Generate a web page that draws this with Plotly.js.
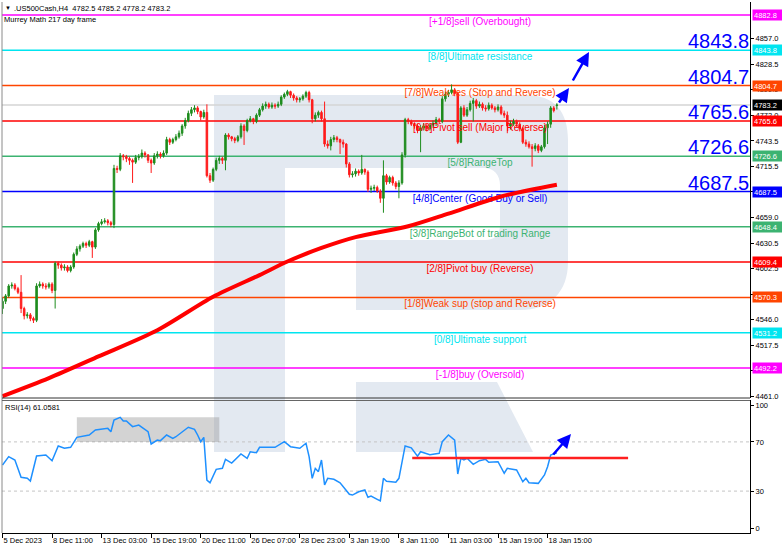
<!DOCTYPE html>
<html><head><meta charset="utf-8">
<script src="https://cdn.plot.ly/plotly-3.0.1.min.js"></script>
<style>html,body{margin:0;padding:0;background:#fff;overflow:hidden}#chart{width:782px;height:551px}</style>
</head><body><div id="chart"></div>
<script>
// ---------- data ----------
const xLabels = ['5 Dec 2023','8 Dec 11:00','13 Dec 03:00','15 Dec 19:00','20 Dec 11:00','26 Dec 07:00','28 Dec 23:00','3 Jan 19:00','8 Jan 11:00','11 Jan 03:00','15 Jan 19:00','18 Jan 15:00'];
const xLabelBars = [0,16,32,48,64,80,96,112,128,144,160,176];

const open = [
4558,4566,4572,4583,4584,4580,4576,4558,4550,4551,
4547,4545,4583,4585,4583,4582,4585,4578,4608,4606,
4603,4604,4600,4604,4618,4624,4627,4630,4628,4632,
4626,4645,4652,4654,4655,4653,4651,4713,4712,4727,
4726,4724,4722,4720,4725,4726,4730,4728,4722,4719,
4727,4729,4727,4730,4745,4742,4745,4748,4752,4760,
4766,4774,4778,4780,4776,4770,4775,4705,4700,4712,
4722,4724,4722,4750,4748,4746,4744,4748,4760,4755,
4766,4768,4765,4772,4778,4782,4784,4781,4783,4782,
4784,4792,4795,4798,4794,4791,4789,4790,4793,4797,
4789,4768,4772,4775,4768,4740,4738,4745,4747,4745,
4742,4740,4718,4706,4707,4710,4708,4712,4709,4690,
4691,4692,4688,4680,4705,4698,4703,4697,4693,4697,
4728,4767,4765,4762,4760,4755,4758,4760,4757,4761,
4763,4767,4765,4790,4795,4797,4800,4796,4742,4780,
4772,4778,4785,4788,4782,4784,4780,4779,4783,4780,
4778,4781,4774,4772,4760,4762,4765,4762,4757,4742,
4740,4737,4735,4738,4733,4737,4758,4762,4780,4782.5];
const high = [
4570,4574,4585,4587,4586,4582,4595,4560,4554,4553,
4549,4586,4588,4587,4586,4587,4587,4610,4610,4608,
4607,4606,4606,4620,4627,4629,4632,4632,4634,4633,
4647,4654,4657,4658,4657,4655,4717,4716,4730,4729,
4728,4726,4724,4728,4729,4734,4732,4729,4724,4730,
4732,4731,4733,4748,4747,4747,4751,4755,4762,4769,
4777,4781,4783,4782,4777,4778,4784,4708,4714,4725,
4727,4726,4752,4752,4749,4748,4750,4763,4762,4768,
4771,4769,4774,4780,4785,4787,4786,4786,4785,4787,
4794,4797,4800,4799,4796,4793,4792,4795,4799,4799,
4790,4775,4777,4777,4787,4744,4748,4750,4749,4746,
4745,4741,4720,4710,4713,4712,4728,4713,4711,4694,
4695,4694,4690,4722,4707,4705,4705,4699,4700,4731,
4769,4769,4767,4764,4762,4761,4763,4762,4763,4766,
4770,4769,4793,4798,4800,4806,4802,4798,4782,4783,
4781,4788,4791,4790,4787,4786,4783,4786,4785,4782,
4784,4783,4777,4776,4766,4768,4767,4764,4759,4745,
4743,4740,4741,4740,4739,4761,4765,4782,4782,4785.2];
const low = [
4552,4563,4570,4580,4578,4574,4553,4546,4547,4544,
4542,4543,4581,4580,4579,4580,4575,4558,4602,4600,
4600,4598,4598,4602,4616,4621,4625,4625,4626,4614,
4624,4643,4650,4652,4650,4648,4647,4708,4710,4722,
4720,4717,4697,4718,4722,4724,4725,4719,4708,4717,
4724,4724,4725,4728,4739,4740,4743,4746,4749,4757,
4764,4771,4775,4773,4766,4768,4703,4697,4698,4710,
4718,4718,4711,4745,4743,4741,4742,4746,4739,4753,
4764,4762,4763,4770,4776,4779,4779,4779,4779,4780,
4782,4790,4793,4791,4788,4786,4786,4788,4791,4786,
4763,4765,4769,4765,4737,4735,4733,4742,4742,4729,
4736,4714,4703,4703,4704,4705,4706,4706,4687,4686,
4688,4686,4675,4664,4695,4696,4694,4690,4680,4695,
4725,4762,4760,4757,4752,4731,4755,4754,4755,4758,
4760,4762,4763,4787,4792,4795,4793,4740,4741,4770,
4770,4776,4765,4779,4780,4777,4776,4777,4778,4775,
4776,4772,4769,4752,4756,4760,4759,4754,4740,4737,
4735,4715,4732,4730,4731,4735,4740,4758,4775,4778.2];
const close = [
4566,4572,4583,4584,4580,4576,4558,4550,4551,4547,
4545,4583,4585,4583,4582,4585,4578,4608,4606,4603,
4604,4600,4604,4618,4624,4627,4630,4628,4632,4626,
4645,4652,4654,4655,4653,4651,4713,4712,4727,4726,
4724,4722,4720,4725,4726,4730,4728,4722,4719,4727,
4729,4727,4730,4745,4742,4745,4748,4752,4760,4766,
4774,4778,4780,4776,4770,4775,4705,4700,4712,4722,
4724,4722,4750,4748,4746,4744,4748,4760,4755,4766,
4768,4765,4772,4778,4782,4784,4781,4783,4782,4784,
4792,4795,4798,4794,4791,4789,4790,4793,4797,4789,
4768,4772,4775,4768,4740,4738,4745,4747,4745,4742,
4740,4718,4706,4707,4710,4708,4712,4709,4690,4691,
4692,4688,4680,4705,4698,4703,4697,4693,4697,4728,
4767,4765,4762,4760,4755,4758,4760,4757,4761,4763,
4767,4765,4790,4795,4797,4800,4796,4742,4780,4772,
4778,4785,4788,4782,4784,4780,4779,4783,4780,4778,
4781,4774,4772,4760,4762,4765,4762,4757,4742,4740,
4737,4735,4738,4733,4737,4758,4762,4780,4777,4783.2];

// 217-period moving average (sampled)
const maBars   = [0,15,31,50,68,83,92,103,114,131,144,161,179];
const maValues = [4461,4481,4505,4534,4571,4595,4610,4625,4637,4649,4663,4682,4695];

// RSI(14)
const rsiBars = [0,2,4,6,8,9,11,14,16,18,20,22,24,28,30,34,35,36,38,39,40,42,44,47,48,50,51,53,55,56,60,62,63,64,65,66,67,69,71,72,74,77,79,80,82,83,88,90,91,93,96,98,99,100,101,102,103,104,105,107,109,112,113,115,117,118,119,121,122,123,124,127,128,130,132,134,135,138,141,142,144,146,147,148,149,150,152,154,156,157,160,162,163,166,168,169,170,173,175,176,177,179];
const rsiValues = [51.2,58,55.3,41.2,40.4,38.2,58.5,59.3,54.7,66.7,64.8,65.6,73.7,75.6,79.7,81,78.3,87.8,90,87,87,82.4,83.7,78.3,68.3,71.5,71,75.6,72.9,74.2,81.9,80.2,75.6,70.2,73.7,39,36.8,47.7,48.5,55.8,52.8,60.2,56.7,62,61.2,65.6,65.6,68.9,70.2,66.1,64.8,68.9,58,40.4,48.5,45.8,55.3,35,40.4,39.6,36.8,27.4,26.8,29.5,30.9,25,26,23.3,22,40.4,38,37.2,40.4,66.7,65.2,58.3,62,59.6,60.7,70.2,75.6,71.5,43.9,56.7,55.3,56.7,51.8,54.7,55.8,53.4,53.9,44.5,48.5,47.2,37.6,40.4,36.8,36.3,43.1,49.8,59.3,61.06];

// Murrey Math levels
const levelValues = [4882.8,4843.8,4804.7,4765.6,4726.6,4687.5,4648.4,4609.4,4570.3,4531.2,4492.2];
const levelNames = ['[+1/8]sell (Overbought)','[8/8]Ultimate resistance','[7/8]Weak res (Stop and Reverse)','[6/8]Pivot sell (Major Reverse)','[5/8]RangeTop','[4/8]Center (Good Buy or Sell)','[3/8]RangeBot of trading Range','[2/8]Pivot buy (Reverse)','[1/8]Weak sup (stop and Reverse)','[0/8]Ultimate support','[-1/8]buy (Oversold)'];
const levelColors = ['#ff00ff','#00e5f0','#ff4500','#ff0000','#3cb371','#0000ff','#3cb371','#ff0000','#ff4500','#00e5f0','#ff00ff'];
const bigLevels = [4843.8,4804.7,4765.6,4726.6,4687.5];
const lastPrice = 4783.2;
const priceTicks = [4461.0,4489.5,4517.5,4546.0,4574.0,4602.5,4630.5,4659.0,4687.5,4715.5,4743.5,4772.0,4800.0,4828.5,4857.0];
const rsiTicks = [0,30,70,100];
const rsiLevel = 57;
const rsiBoxBars = [24,70];
const rsiBoxRange = [70,90];
const rsiLineBars = [132.3,202];
const headerText = '.US500Cash,H4\u00a0\u00a04782.5 4785.2 4778.2 4783.2';
const indText = 'Murrey Math 217 day frame';
const rsiText = 'RSI(14) 61.0581';

// ---------- geometry helpers ----------
const L=2,R=750,T=2,B=533;
const PX = p => (p-L)/(R-L);
const PY = p => (B-p)/(B-T);
const PPU = 1.1065;            // price units per pixel in the main panel
const FONT = 'Liberation Sans, Arial, sans-serif';
const bars = close.map((_,i)=>i);
const labelBar = 154.2;
const labelDrop = 2.5 * PPU;   // push level captions 2.5 px lower

const traces = [
  {type:'scatter', mode:'text', x: levelValues.map(()=>labelBar), y: levelValues.map(v=>v-labelDrop), text: levelNames,
   textposition:'bottom center', textfont:{family:FONT, size:10, color:levelColors},
   hoverinfo:'skip', showlegend:false, xaxis:'x', yaxis:'y', cliponaxis:false},
  {type:'scatter', mode:'lines', x: maBars, y: maValues, line:{color:'#ff0000', width:4, shape:'spline', smoothing:0.8},
   hoverinfo:'skip', showlegend:false, xaxis:'x', yaxis:'y'},
  {type:'candlestick', x: bars, open: open, high: high, low: low, close: close,
   increasing:{line:{color:'#1e8c1e', width:1}, fillcolor:'#1e8c1e'},
   decreasing:{line:{color:'#ff1a1a', width:1}, fillcolor:'#ff1a1a'},
   whiskerwidth:0, showlegend:false, hoverinfo:'skip', xaxis:'x', yaxis:'y'},
  {type:'scatter', mode:'lines', x: rsiBars, y: rsiValues, line:{color:'#1e90ff', width:1.5},
   hoverinfo:'skip', showlegend:false, xaxis:'x', yaxis:'y2'}
];

const wmA = `M ${PX(214)},${PY(95)} L ${PX(525)},${PY(95)} C ${PX(555)},${PY(95)} ${PX(568)},${PY(112)} ${PX(568)},${PY(140)} L ${PX(568)},${PY(262)} C ${PX(568)},${PY(292)} ${PX(550)},${PY(310)} ${PX(520)},${PY(310)} L ${PX(356)},${PY(310)} L ${PX(356)},${PY(240)} L ${PX(485)},${PY(240)} C ${PX(495)},${PY(240)} ${PX(500)},${PY(234)} ${PX(500)},${PY(225)} L ${PX(500)},${PY(185)} C ${PX(500)},${PY(175)} ${PX(494)},${PY(168)} ${PX(484)},${PY(168)} L ${PX(285)},${PY(168)} L ${PX(285)},${PY(452)} L ${PX(214)},${PY(452)} Z`;
const wmB = `M ${PX(356)},${PY(382)} L ${PX(497)},${PY(382)} L ${PX(533)},${PY(452)} L ${PX(356)},${PY(452)} Z`;

const shapes = [
  {type:'path', path:wmA, xref:'paper', yref:'paper', fillcolor:'#e3e9f1', line:{width:0}, layer:'below'},
  {type:'path', path:wmB, xref:'paper', yref:'paper', fillcolor:'#e3e9f1', line:{width:0}, layer:'below'},
  {type:'line', xref:'paper', yref:'y', x0:0, x1:1, y0:lastPrice, y1:lastPrice, line:{color:'#d4d4d4', width:1.5}, layer:'below'}
];
levelValues.forEach((v,i)=>shapes.push({type:'line', xref:'paper', yref:'y', x0:0, x1:1, y0:v, y1:v, line:{color:levelColors[i], width:1.5}, layer:'below'}));
[70,30].forEach(v=>shapes.push({type:'line', xref:'paper', yref:'y2', x0:0, x1:1, y0:v, y1:v, line:{color:'#c4c4c4', width:1, dash:'3px,3px'}, layer:'below'}));
shapes.push({type:'rect', xref:'x', yref:'y2', x0:rsiBoxBars[0], x1:rsiBoxBars[1], y0:rsiBoxRange[0], y1:rsiBoxRange[1], fillcolor:'rgba(150,150,150,0.42)', line:{width:0}, layer:'below'});
shapes.push({type:'line', xref:'x', yref:'y2', x0:rsiLineBars[0], x1:rsiLineBars[1], y0:rsiLevel, y1:rsiLevel, line:{color:'#ff2020', width:2.5}, layer:'above'});
// frame
shapes.push({type:'line', xref:'paper', yref:'paper', x0:0, x1:0, y0:0, y1:1, line:{color:'#8a8a8a', width:1}});
shapes.push({type:'line', xref:'paper', yref:'paper', x0:0, x1:1, y0:PY(398), y1:PY(398), line:{color:'#333', width:1}});
shapes.push({type:'line', xref:'paper', yref:'paper', x0:0, x1:1, y0:PY(400.5), y1:PY(400.5), line:{color:'#666', width:1}});

const annotations = [];
bigLevels.forEach(v=>annotations.push({xref:'paper', yref:'y', x:1, y:v, xanchor:'right', yanchor:'bottom', yshift:-3, borderpad:0,
  text:v.toFixed(1), showarrow:false, font:{family:FONT, size:20, color:'#0000ff'}}));
const boxVals = [4882.8,4843.8,4804.7,lastPrice,4765.6,4726.6,4687.5,4648.4,4609.4,4570.3,4531.2,4492.2];
const boxCols = ['#ff00ff','#00e5f0','#ff4500','#000000','#ff0000','#3cb371','#0000ff','#3cb371','#ff0000','#ff4500','#00e5f0','#ff00ff'];
boxVals.forEach((v,i)=>annotations.push({xref:'paper', yref:'y', x:PX(752), y:v, xanchor:'left', yanchor:'middle',
  text:v.toFixed(1), showarrow:false, bgcolor:boxCols[i], width:28, height:8, borderpad:1, align:'left',
  font:{family:FONT, size:7.5, color:'#ffffff'}}));
annotations.push({xref:'paper', yref:'paper', x:PX(3), y:PY(8), xanchor:'left', yanchor:'middle', text:'\u25BC', showarrow:false, font:{family:FONT, size:6, color:'#000'}});
annotations.push({xref:'paper', yref:'paper', x:PX(12), y:PY(8), xanchor:'left', yanchor:'middle', text:headerText, showarrow:false, font:{family:FONT, size:7.5, color:'#000'}});
annotations.push({xref:'paper', yref:'paper', x:PX(2), y:PY(19), xanchor:'left', yanchor:'middle', text:indText, showarrow:false, font:{family:FONT, size:7.5, color:'#000'}});
annotations.push({xref:'paper', yref:'paper', x:PX(3), y:PY(407), xanchor:'left', yanchor:'middle', text:rsiText, showarrow:false, font:{family:FONT, size:7.5, color:'#000'}});
// arrows
const arrows = [[569,88,558,104],[589,52,572,82],[571,434,552,456]];
arrows.forEach(a=>annotations.push({xref:'paper', yref:'paper', x:PX(a[0]), y:PY(a[1]), ax:a[2]-a[0], ay:a[3]-a[1],
  text:'', showarrow:true, arrowhead:2, arrowsize:1.1, arrowwidth:2.5, arrowcolor:'#0000ff', standoff:0}));

const layout = {
  width:782, height:551,
  margin:{l:L, r:782-R, t:T, b:551-B, pad:0},
  paper_bgcolor:'#ffffff', plot_bgcolor:'rgba(0,0,0,0)',
  showlegend:false, dragmode:false,
  xaxis:{range:[(L-2.5)/3.097, (R-2.5)/3.097], anchor:'y2', showgrid:false, zeroline:false,
    tickvals:xLabelBars, ticktext:xLabels, ticks:'outside', ticklen:4, tickcolor:'#000', tickwidth:1,
    tickangle:0, ticklabelposition:'outside right', tickfont:{family:FONT, size:7.5, color:'#000'},
    showline:true, linecolor:'#000', linewidth:1, rangeslider:{visible:false}, fixedrange:true},
  yaxis:{domain:[PY(398),1], range:[4882.8-(398-15)*PPU, 4882.8+(15-2)*PPU], side:'right', anchor:'x',
    showgrid:false, zeroline:false, tickvals:priceTicks, ticktext:priceTicks.map(v=>v.toFixed(1)),
    ticks:'outside', ticklen:3, tickcolor:'#000', tickfont:{family:FONT, size:7.5, color:'#000'},
    showline:true, linecolor:'#000', linewidth:1, fixedrange:true},
  yaxis2:{domain:[0,PY(400)], range:[(528-533)/1.23, (528-400)/1.23], side:'right', anchor:'x',
    showgrid:false, zeroline:false, tickvals:rsiTicks, ticktext:rsiTicks.map(String),
    ticks:'outside', ticklen:3, tickcolor:'#000', tickfont:{family:FONT, size:7.5, color:'#000'},
    showline:true, linecolor:'#000', linewidth:1, fixedrange:true},
  shapes:shapes, annotations:annotations
};
Plotly.newPlot('chart', traces, layout, {staticPlot:true, displayModeBar:false});
</script></body></html>
